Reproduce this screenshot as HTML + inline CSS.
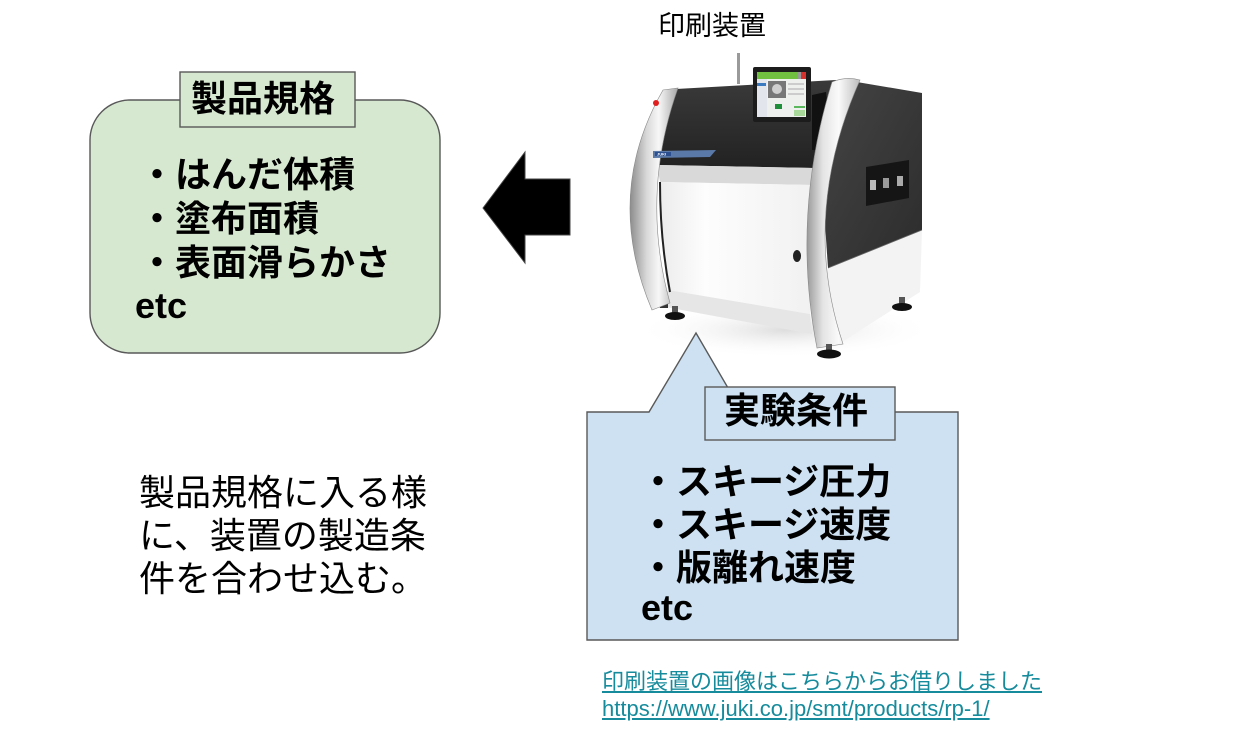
<!DOCTYPE html>
<html><head><meta charset="utf-8">
<style>
html,body{margin:0;padding:0;background:#fff;}
body{width:1243px;height:754px;position:relative;overflow:hidden;font-family:"Liberation Sans","Noto Sans CJK JP",sans-serif;}
.t{position:absolute;white-space:nowrap;color:#000;margin:0;padding:0;}
.b{font-weight:bold;}
.lk{color:#168b9c;text-decoration:underline;font-size:22px;line-height:22px;height:22px;}
</style></head><body>
<svg width="1243" height="754" style="position:absolute;left:0;top:0" xmlns="http://www.w3.org/2000/svg">
<defs>
<linearGradient id="gL" x1="0" y1="0" x2="1" y2="0">
<stop offset="0" stop-color="#8c8c8c"/><stop offset="0.35" stop-color="#d9d9d9"/><stop offset="0.6" stop-color="#f7f7f7"/><stop offset="1" stop-color="#a8a8a8"/>
</linearGradient>
<linearGradient id="gR" x1="0" y1="0" x2="1" y2="0">
<stop offset="0" stop-color="#9a9a9a"/><stop offset="0.3" stop-color="#e4e4e4"/><stop offset="0.6" stop-color="#fafafa"/><stop offset="1" stop-color="#bcbcbc"/>
</linearGradient>
<linearGradient id="gDF" x1="0" y1="0" x2="0" y2="1">
<stop offset="0" stop-color="#3a3a3a"/><stop offset="1" stop-color="#222"/>
</linearGradient>
<linearGradient id="gDS" x1="0" y1="0" x2="1" y2="1">
<stop offset="0" stop-color="#454545"/><stop offset="1" stop-color="#2c2c2c"/>
</linearGradient>
<linearGradient id="gW" x1="0" y1="0" x2="1" y2="0">
<stop offset="0" stop-color="#ececec"/><stop offset="0.3" stop-color="#fdfdfd"/><stop offset="1" stop-color="#f1f1f1"/>
</linearGradient>
<radialGradient id="gSh" cx="0.5" cy="0.5" r="0.5">
<stop offset="0" stop-color="#cfcfcf"/><stop offset="1" stop-color="#ffffff" stop-opacity="0"/>
</radialGradient>
</defs>

<!-- green box -->
<rect x="90" y="100" width="350" height="253" rx="40" ry="40" fill="#d7e8d1" stroke="#595959" stroke-width="1.4"/>
<rect x="180" y="72" width="175" height="55" fill="#d7e8d1" stroke="#595959" stroke-width="1.4"/>

<!-- arrow -->
<polygon points="483,208 525,152 525,179 570,179 570,235 525,235 525,263" fill="#000" stroke="#444" stroke-width="1"/>

<!-- machine -->
<ellipse cx="785" cy="330" rx="150" ry="28" fill="url(#gSh)" opacity="0.7"/>
<polygon points="845,80 922,93 922,230 828,268 820,150" fill="url(#gDS)"/>
<polygon points="828,268 922,230 920,292 842,342 825,345" fill="#f3f3f3"/>
<line x1="828" y1="268" x2="922" y2="230" stroke="#666" stroke-width="0.8"/>
<polygon points="866,167 909,160 909,198 866,206" fill="#151515"/>
<rect x="870" y="180" width="6" height="10" fill="#bbb"/>
<rect x="883" y="178" width="6" height="10" fill="#999"/>
<rect x="897" y="176" width="6" height="10" fill="#aaa"/>
<path d="M676,89 L836,80 Q822,120 814,168 L657,165 Q662,120 676,89 Z" fill="url(#gDF)"/>
<polygon points="812,95 826,92 828,110 818,150 812,150" fill="#111"/>
<polygon points="657,165 814,168 812,185 660,182" fill="#d9d9d9"/>
<path d="M660,182 L812,185 L810,314 L668,290 Q660,235 660,182 Z" fill="url(#gW)"/>
<polygon points="668,290 810,314 812,334 660,306" fill="#e6e6e6"/>
<path d="M660,182 Q660,240 670,292" stroke="#222" stroke-width="2" fill="none"/>
<polygon points="657,300 668,300 668,308 660,308" fill="#333"/>
<path d="M663,90 Q603,195 652,310 L670,303 Q640,195 678,88 Z" fill="url(#gL)" stroke="#888" stroke-width="0.6"/>
<path d="M832,82 Q791,215 817,348 L843,344 Q800,215 860,80 Q846,76 832,82 Z" fill="url(#gR)" stroke="#888" stroke-width="0.6"/>
<!-- monitor -->
<rect x="737" y="53" width="3" height="31" fill="#9a9a9a"/>
<rect x="753" y="67" width="58" height="55" rx="2" fill="#1c1c1c"/>
<rect x="757" y="72" width="49" height="45" fill="#eef0ee"/>
<rect x="757" y="72" width="49" height="7" fill="#72c040"/>
<rect x="797" y="72" width="4" height="7" fill="#999"/>
<rect x="801" y="72" width="5" height="7" fill="#d8322f"/>
<rect x="757" y="79" width="10" height="38" fill="#e2e6ec"/>
<rect x="757" y="83" width="9" height="3" fill="#3a78c0"/>
<rect x="768" y="81" width="18" height="17" fill="#777"/>
<circle cx="777" cy="89" r="5" fill="#cfcfcf"/>
<rect x="775" y="104" width="7" height="5" fill="#1f8f3a"/>
<rect x="788" y="83" width="16" height="2" fill="#ccc"/>
<rect x="788" y="88" width="16" height="2" fill="#ccc"/>
<rect x="788" y="93" width="16" height="2" fill="#ccc"/>
<rect x="794" y="106" width="11" height="2" fill="#5cb85c"/>
<rect x="794" y="110" width="11" height="6" fill="#a8d89a"/>
<!-- label -->
<polygon points="653,151 716,150 710,157 653,158" fill="#5a79a8"/>
<rect x="655" y="152" width="16" height="4" fill="#2b4f8f"/>
<text x="657" y="155.5" font-family="Liberation Sans" font-size="4" font-weight="bold" fill="#fff">JUKI</text>
<circle cx="656" cy="103" r="3" fill="#e02020"/>
<!-- feet -->
<rect x="672" y="306" width="6" height="8" fill="#555"/>
<ellipse cx="675" cy="316" rx="10" ry="4" fill="#111"/>
<rect x="826" y="344" width="6" height="8" fill="#555"/>
<ellipse cx="829" cy="354" rx="12" ry="4.5" fill="#111"/>
<rect x="899" y="297" width="6" height="8" fill="#555"/>
<ellipse cx="902" cy="307" rx="10" ry="4" fill="#111"/>
<ellipse cx="797" cy="256" rx="4" ry="6" fill="#222"/>

<!-- blue callout -->
<path d="M587,412 L649,412 L696,333 L742,412 L958,412 L958,640 L587,640 Z" fill="#cde1f2" stroke="#595959" stroke-width="1.4"/>
<rect x="705" y="387" width="190" height="53" fill="#cde1f2" stroke="#595959" stroke-width="1.4"/>
</svg>

<div class="t" style="left:658px;top:13px;font-size:27px;line-height:27px;">印刷装置</div>

<div class="t b" style="left:191px;top:81px;font-size:36px;line-height:36px;">製品規格</div>
<div class="t b" style="left:139px;top:153px;font-size:36px;line-height:44px;">・はんだ体積<br>・塗布面積<br>・表面滑らかさ</div>
<div class="t b" style="left:135px;top:288px;font-size:36px;line-height:36px;">etc</div>

<div class="t b" style="left:724px;top:393px;font-size:36px;line-height:36px;">実験条件</div>
<div class="t b" style="left:640px;top:460px;font-size:36px;line-height:43px;">・スキージ圧力<br>・スキージ速度<br>・版離れ速度</div>
<div class="t b" style="left:641px;top:590px;font-size:36px;line-height:36px;">etc</div>

<div class="t" style="left:139px;top:471px;font-size:36px;line-height:43px;">製品規格に入る様<br>に、装置の製造条<br>件を合わせ込む。</div>

<div class="t lk" style="left:602px;top:671px;">印刷装置の画像はこちらからお借りしました</div>
<div class="t lk" style="left:602px;top:698px;">https://www.juki.co.jp/smt/products/rp-1/</div>
</body></html>
